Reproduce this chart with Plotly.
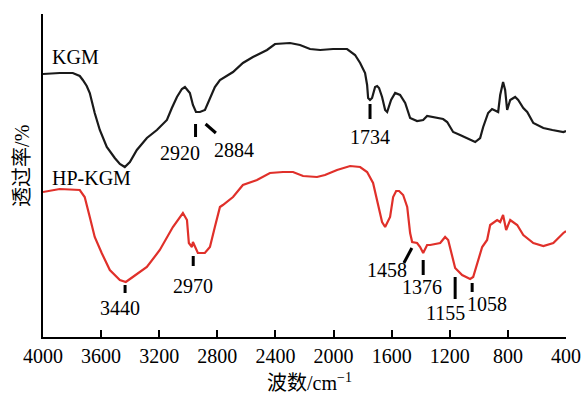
import plotly.graph_objects as go

# KGM spectrum (wavenumber, relative transmittance)
kgm_wn = [4000, 3885, 3795, 3747, 3726, 3699, 3678, 3644, 3609, 3561, 3506, 3471, 3437, 3402, 3354, 3285,
          3216, 3147, 3113, 3078, 3044, 3023, 2989, 2968, 2947, 2920, 2885, 2851, 2817, 2782, 2692, 2624,
          2555, 2458, 2403, 2300, 2231, 2162, 2092, 2003, 1907, 1852, 1817, 1783, 1769, 1762, 1749, 1735,
          1714, 1700, 1687, 1666, 1645, 1631, 1604, 1576, 1542, 1507, 1473, 1425, 1383, 1356, 1321, 1287,
          1246, 1218, 1177, 1129, 1080, 1025, 991, 970, 936, 909, 867, 853, 833, 819, 805, 784, 750, 729,
          694, 667, 625, 556, 494, 418, 400]
kgm_t = [263, 264, 264, 261, 257, 251, 244, 224, 207, 190, 179, 173, 170, 175, 187, 199,
         207, 217, 229, 240, 248, 250, 244, 232, 225, 225, 227, 239, 250, 257, 265, 274,
         280, 287, 293, 294, 292, 288, 287, 288, 288, 282, 274, 264, 252, 239, 237, 239,
         250, 251, 249, 240, 227, 225, 237, 244, 242, 234, 219, 216, 217, 221, 220, 219,
         218, 215, 205, 202, 199, 195, 199, 210, 224, 228, 225, 242, 255, 247, 227, 237, 240, 237,
         229, 225, 214, 209, 207, 205, 206]

# HP-KGM spectrum
hp_wn = [4000, 3885, 3747, 3713, 3678, 3644, 3596, 3540, 3471, 3430, 3382, 3285, 3196, 3106, 3037, 3009,
         2996, 2975, 2968, 2947, 2934, 2886, 2851, 2817, 2782, 2762, 2692, 2624, 2527, 2438, 2348, 2279,
         2210, 2114, 2059, 1976, 1886, 1817, 1769, 1728, 1700, 1666, 1645, 1611, 1590, 1569, 1549, 1521,
         1493, 1473, 1459, 1425, 1404, 1383, 1356, 1335, 1266, 1232, 1211, 1184, 1163, 1115, 1060, 1039,
         1005, 977, 943, 922, 874, 853, 833, 812, 784, 736, 694, 625, 556, 487, 418, 400]
hp_t = [145, 148, 147, 140, 120, 100, 84, 67, 57, 55, 60, 70, 87, 110, 124, 117,
        94, 90, 95, 89, 84, 84, 90, 110, 130, 132, 140, 152, 157, 164, 165, 165,
        161, 160, 162, 167, 171, 170, 165, 154, 137, 115, 110, 120, 140, 146, 146, 142,
        130, 104, 95, 94, 90, 84, 92, 92, 94, 100, 97, 80, 69, 62, 58, 60,
        77, 90, 97, 112, 117, 115, 122, 107, 117, 112, 102, 94, 91, 94, 104, 106]

# Peak annotations: label, marker segment (x0,y0,x1,y1), label position
peak_labels = ["2920", "2884", "1734", "3440", "2970", "1458", "1376", "1155", "1058"]
peak_x0 = [2950, 2881, 1749, 3435, 2966, 1461, 1383, 1163, 1046]
peak_y0 = [213, 213, 233, 52, 81, 89, 77, 60, 54]
peak_x1 = [2950, 2810, 1749, 3435, 2966, 1516, 1383, 1163, 1046]
peak_y1 = [200, 204, 218, 44, 71, 74, 62, 38, 45]
label_x = [3058, 2686, 1749, 3471, 2966, 1632, 1390, 1232, 942]
label_y = [184, 187, 200, 29, 51, 67, 50, 24, 33]

series_names = ["KGM", "HP-KGM"]
series_label_x = [3954, 3954]
series_label_y = [280, 159]

x_ticks = [4000, 3600, 3200, 2800, 2400, 2000, 1600, 1200, 800, 400]

FONT = "Liberation Serif, Times New Roman, Noto Sans CJK SC, serif"

fig = go.Figure()
fig.add_trace(go.Scatter(x=kgm_wn, y=kgm_t, mode="lines",
                         line=dict(color="#1a1a1a", width=2.2), showlegend=False))
fig.add_trace(go.Scatter(x=hp_wn, y=hp_t, mode="lines",
                         line=dict(color="#e0302a", width=2.2), showlegend=False))

for i, lab in enumerate(peak_labels):
    fig.add_shape(type="line", xref="x", yref="y",
                  x0=peak_x0[i], y0=peak_y0[i], x1=peak_x1[i], y1=peak_y1[i],
                  line=dict(color="black", width=3))
    fig.add_annotation(x=label_x[i], y=label_y[i], xref="x", yref="y", text=lab,
                       showarrow=False, font=dict(family=FONT, size=20, color="black"),
                       xanchor="center", yanchor="middle")

for i, name in enumerate(series_names):
    fig.add_annotation(x=series_label_x[i], y=series_label_y[i], xref="x", yref="y", text=name,
                       showarrow=False, font=dict(family=FONT, size=20, color="black"),
                       xanchor="left", yanchor="middle")

fig.add_annotation(x=-0.04, y=0.53, xref="paper", yref="paper", text="透过率/%",
                   textangle=-90, showarrow=False,
                   font=dict(family=FONT, size=20, color="black"),
                   xanchor="center", yanchor="middle")
fig.add_annotation(x=0.51, y=-0.138, xref="paper", yref="paper", text="波数/cm<sup>−1</sup>",
                   showarrow=False, font=dict(family=FONT, size=20, color="black"),
                   xanchor="center", yanchor="middle")

fig.update_layout(
    width=582, height=395,
    margin=dict(l=43, r=16, t=14, b=58, autoexpand=False),
    paper_bgcolor="white", plot_bgcolor="white",
    font=dict(family=FONT, size=20, color="black"),
)
fig.update_xaxes(range=[4000, 400], tickvals=x_ticks, ticktext=[str(v) for v in x_ticks],
                 automargin=False,
                 showgrid=False, zeroline=False, showline=True, linecolor="black", linewidth=1.5,
                 ticks="inside", ticklen=7, tickwidth=1.5, tickcolor="black",
                 tickfont=dict(family=FONT, size=20, color="black"))
fig.update_yaxes(range=[0, 323], showgrid=False, zeroline=False, showline=True, automargin=False,
                 linecolor="black", linewidth=1.5, showticklabels=False, ticks="")

fig.write_html("out.html", config={"displayModeBar": False},
               post_script="document.body.style.margin='0';document.body.style.overflow='hidden';")
